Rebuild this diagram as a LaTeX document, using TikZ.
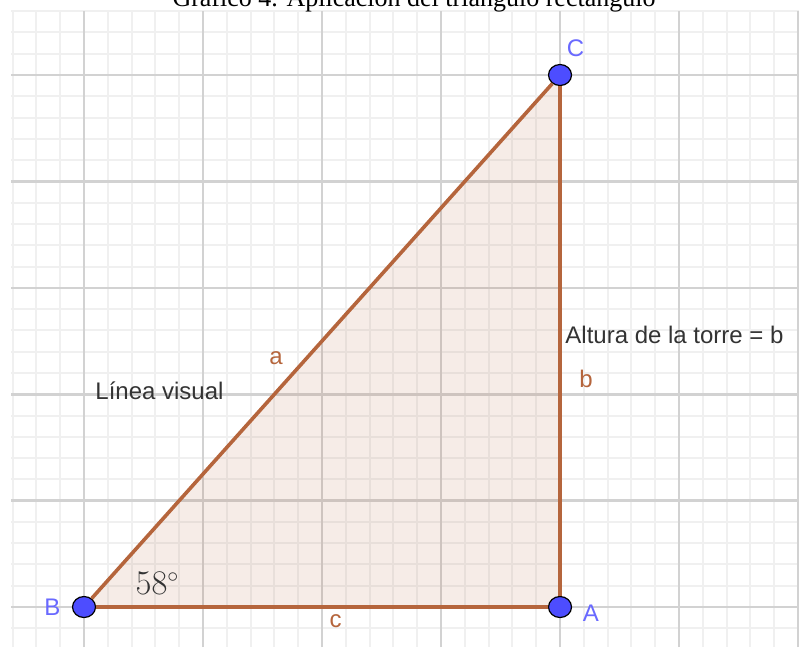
\documentclass[tikz,border=0pt]{standalone}
\usepackage{fontspec}
\setsansfont{Liberation Sans}
\newfontfamily\titlefont{Liberation Serif}
\usetikzlibrary{shapes.geometric,backgrounds}

\definecolor{ggbblue}{RGB}{77,77,255}
\definecolor{ggblabel}{RGB}{105,105,255}
\definecolor{ggbside}{RGB}{181,101,60}
\definecolor{ggbtext}{RGB}{51,51,51}
\definecolor{gridminor}{RGB}{240,240,240}
\definecolor{gridmajor}{RGB}{210,210,210}

\begin{document}
\begin{tikzpicture}[
	x=59.5pt, y=53.2pt,
	vertex/.style={ ellipse, draw=black, line width=0.6pt, fill=ggbblue, inner sep=0pt, minimum width=11.5pt, minimum height=10.5pt },
	side/.style={ ggbside, line width=1.8pt },
	sidelbl/.style={ text=ggbside, font=\sffamily\fontsize{12}{14}\selectfont, inner sep=0pt, anchor=base },
	ptlbl/.style={ text=ggblabel, font=\sffamily\fontsize{12}{14}\selectfont, inner sep=0pt },
	txt/.style={ text=ggbtext, font=\sffamily\fontsize{12}{14}\selectfont, inner sep=0pt, anchor=base }
]
\useasboundingbox (-0.706,-0.395) rectangle (6.025,5.705);

\node at (2.773,5.644) (title) [anchor=base, inner sep=0pt, font=\titlefont\fontsize{13}{15}\selectfont] {Gráfico 4. Aplicación del triángulo rectángulo};

\node at (0,0) (B) [vertex] {};
\node at (4,0) (A) [vertex] {};
\node at (4,5) (C) [vertex] {};

\begin{pgfonlayer}{background}
\draw[gridminor, line width=1pt, step=0.2] (-0.613,-0.376) grid (6.01,5.60);
\draw[gridmajor, line width=1.3pt, step=1] (-0.613,-0.376) grid (6.01,5.60);
\fill[ggbside, fill opacity=0.12] (B.center) -- (A.center) -- (C.center) -- cycle;
\end{pgfonlayer}

\draw[side] (B) to node[sidelbl, pos=0.4, yshift=14.2pt] {a} (C);
\draw[side] (A) to node[sidelbl, pos=0.4, shift={(13pt,2pt)}] {b} (C);
\draw[side] (B) to node[sidelbl, pos=0.53, yshift=-10pt] {c} (A);

\node at (-0.265,0) (lB) [ptlbl] {B};
\node at (4.26,-0.061) (lA) [ptlbl] {A};
\node at (4.13,5.249) (lC) [ptlbl] {C};

\node at (0.634,1.955) (vis) [txt] {Línea visual};
\node at (4.042,2.481) (alt) [txt, anchor=base west] {Altura de la torre = b};
\node at (0.618,0.113) (ang) [anchor=base, inner sep=0pt, text=ggbtext, font=\fontsize{16}{19}\selectfont] {$58^\circ$};

\end{tikzpicture}
\end{document}
